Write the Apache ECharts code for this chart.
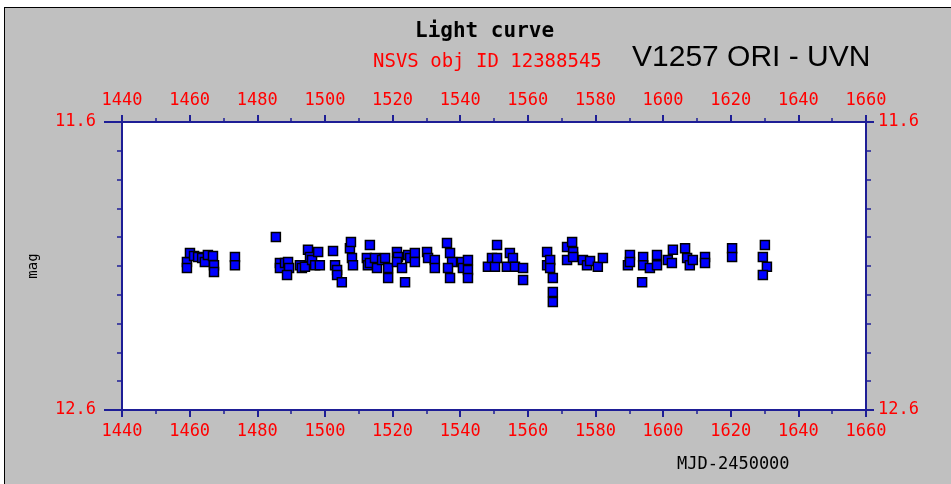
<!DOCTYPE html>
<html>
<head>
<meta charset="utf-8">
<script src="https://cdn.jsdelivr.net/npm/echarts@6/dist/echarts.min.js"></script>
<style>
  html, body { margin: 0; padding: 0; background: #fff; }
  #frame { position: absolute; left: 4px; top: 7px; width: 947px; height: 477px;
           background: #c0c0c0; border-left: 1px solid #000; border-top: 1px solid #000; }
  #chart { position: absolute; left: 0; top: 0; width: 951px; height: 484px; }
</style>
</head>
<body>
<div id="frame"></div>
<div id="chart"></div>
<script>
// MJD-2450000 of each observation
var mjd = [
  1459.2, 1459.2, 1460.1, 1461.3, 1462.5, 1463.7, 1464.5, 1465.4, 1466.9, 1467.2, 1467.2, 1473.4, 1473.4,
  1485.5, 1486.7, 1486.7, 1488.2, 1489.1, 1489.4, 1488.8, 1492.6, 1493.2, 1494.1, 1495.0, 1495.6, 1496.2,
  1498.0, 1497.1, 1498.5, 1502.4, 1503.0, 1503.6, 1503.6, 1505.0, 1507.4, 1507.7, 1508.0, 1508.3,
  1512.4, 1512.7, 1513.3, 1513.3, 1514.8, 1515.4, 1516.9, 1517.8, 1518.7, 1518.7, 1521.3, 1521.6, 1521.3,
  1522.8, 1523.7, 1524.6, 1525.2, 1526.6, 1526.6, 1530.2, 1530.5, 1532.5, 1532.5, 1536.1, 1537.0, 1537.6,
  1536.4, 1537.0, 1540.5, 1540.8, 1542.3, 1542.3, 1542.3, 1548.2, 1549.4, 1550.3, 1550.9, 1550.9,
  1553.8, 1554.7, 1555.6, 1556.2, 1558.6, 1558.6, 1565.7, 1565.7, 1566.6, 1566.6, 1567.4, 1567.4, 1567.4,
  1571.6, 1571.6, 1573.1, 1573.4, 1573.4, 1576.3, 1577.5, 1578.4, 1580.7, 1582.2,
  1589.6, 1590.2, 1590.2, 1593.8, 1594.1, 1594.1, 1596.1, 1598.2, 1598.2, 1601.4, 1602.6, 1602.9,
  1606.5, 1607.1, 1607.9, 1608.8, 1612.4, 1612.4, 1620.4, 1620.4, 1630.1, 1629.5, 1630.7, 1629.5
];
// magnitude of each observation
var mag = [
  12.086, 12.107, 12.055, 12.065, 12.069, 12.072, 12.086, 12.062, 12.065, 12.097, 12.121, 12.069, 12.097,
  11.999, 12.090, 12.107, 12.090, 12.086, 12.107, 12.131, 12.097, 12.107, 12.103, 12.044, 12.069, 12.079,
  12.051, 12.097, 12.097, 12.048, 12.097, 12.114, 12.131, 12.156, 12.038, 12.017, 12.072, 12.097,
  12.072, 12.097, 12.027, 12.090, 12.072, 12.107, 12.079, 12.072, 12.107, 12.142, 12.051, 12.069, 12.086,
  12.107, 12.156, 12.062, 12.072, 12.055, 12.086, 12.051, 12.072, 12.079, 12.107, 12.020, 12.055, 12.086,
  12.107, 12.142, 12.086, 12.107, 12.079, 12.114, 12.142, 12.103, 12.072, 12.103, 12.027, 12.072,
  12.103, 12.055, 12.072, 12.103, 12.107, 12.149, 12.051, 12.097, 12.079, 12.107, 12.142, 12.190, 12.225,
  12.034, 12.079, 12.017, 12.051, 12.069, 12.079, 12.097, 12.083, 12.103, 12.072,
  12.097, 12.062, 12.086, 12.156, 12.069, 12.097, 12.107, 12.062, 12.097, 12.079, 12.090, 12.044,
  12.038, 12.072, 12.097, 12.079, 12.069, 12.090, 12.038, 12.069, 12.027, 12.069, 12.103, 12.131
];
var xTicks = { min: 1440, max: 1660, step: 20 };
var yTicks = { min: 11.6, max: 12.6, step: 1 };

var mono = 'DejaVu Sans Mono';
var axisBlue = '#1e1e96';

function xAxisDef(pos) {
  return {
    type: 'value', position: pos,
    min: xTicks.min, max: xTicks.max, interval: xTicks.step,
    axisLine: { show: true, onZero: false, lineStyle: { color: axisBlue, width: 2 } },
    axisTick: { show: true, length: 7, lineStyle: { color: axisBlue, width: 2 } },
    minorTick: { show: true, splitNumber: 2, length: 4, lineStyle: { color: axisBlue, width: 1.5 } },
    axisLabel: { color: '#ff0000', fontFamily: mono, fontSize: 17, margin: 13,
      formatter: function (v) { return String(v); } },
    splitLine: { show: false }
  };
}
function yAxisDef(pos, margin, tickLen) {
  return {
    type: 'value', position: pos, inverse: true,
    min: yTicks.min, max: yTicks.max, interval: yTicks.step,
    axisLine: { show: true, onZero: false, lineStyle: { color: axisBlue, width: 2 } },
    axisTick: { show: true, length: tickLen, lineStyle: { color: axisBlue, width: 2 } },
    minorTick: { show: true, splitNumber: 10, length: 5, lineStyle: { color: axisBlue, width: 1.5 } },
    axisLabel: { color: '#ff0000', fontFamily: mono, fontSize: 17, margin: margin,
      formatter: function (v) { return v.toFixed(1); } },
    splitLine: { show: false }
  };
}

var chart = echarts.init(document.getElementById('chart'));
var yLeft = yAxisDef('left', 26, 18);
yLeft.name = 'mag';
yLeft.nameLocation = 'middle';
yLeft.nameGap = 82;
yLeft.nameTextStyle = { fontFamily: mono, fontSize: 14, color: '#000' };

chart.setOption({
  backgroundColor: 'transparent',
  animation: false,
  title: [
    { text: 'Light curve', left: 410, top: 16,
      textStyle: { fontFamily: mono, fontSize: 21, fontWeight: 'bold', color: '#000' } },
    { text: 'NSVS obj ID 12388545', left: 368, top: 48,
      textStyle: { fontFamily: mono, fontSize: 19, fontWeight: 'normal', color: '#ff0000' } },
    { text: 'V1257 ORI - UVN', left: 627, top: 38,
      textStyle: { fontFamily: 'Liberation Sans', fontSize: 30, fontWeight: 'normal', color: '#000' } }
  ],
  graphic: [
    { type: 'text', left: 677, top: 456,
      style: { text: 'MJD-2450000', font: '17px "DejaVu Sans Mono"', fill: '#000' } }
  ],
  grid: { left: 122, right: 85, top: 122, bottom: 74, show: true,
    backgroundColor: '#fff', borderWidth: 0 },
  xAxis: [xAxisDef('bottom'), xAxisDef('top')],
  yAxis: [yLeft, yAxisDef('right', 12, 8)],
  series: [{
    type: 'scatter',
    xAxisIndex: 0, yAxisIndex: 0,
    symbol: 'rect', symbolSize: 9,
    itemStyle: { color: '#0000ff', borderColor: '#000', borderWidth: 1.5, opacity: 1 },
    data: mjd.map(function (d, i) { return [d, mag[i]]; })
  }]
});
</script>
</body>
</html>
